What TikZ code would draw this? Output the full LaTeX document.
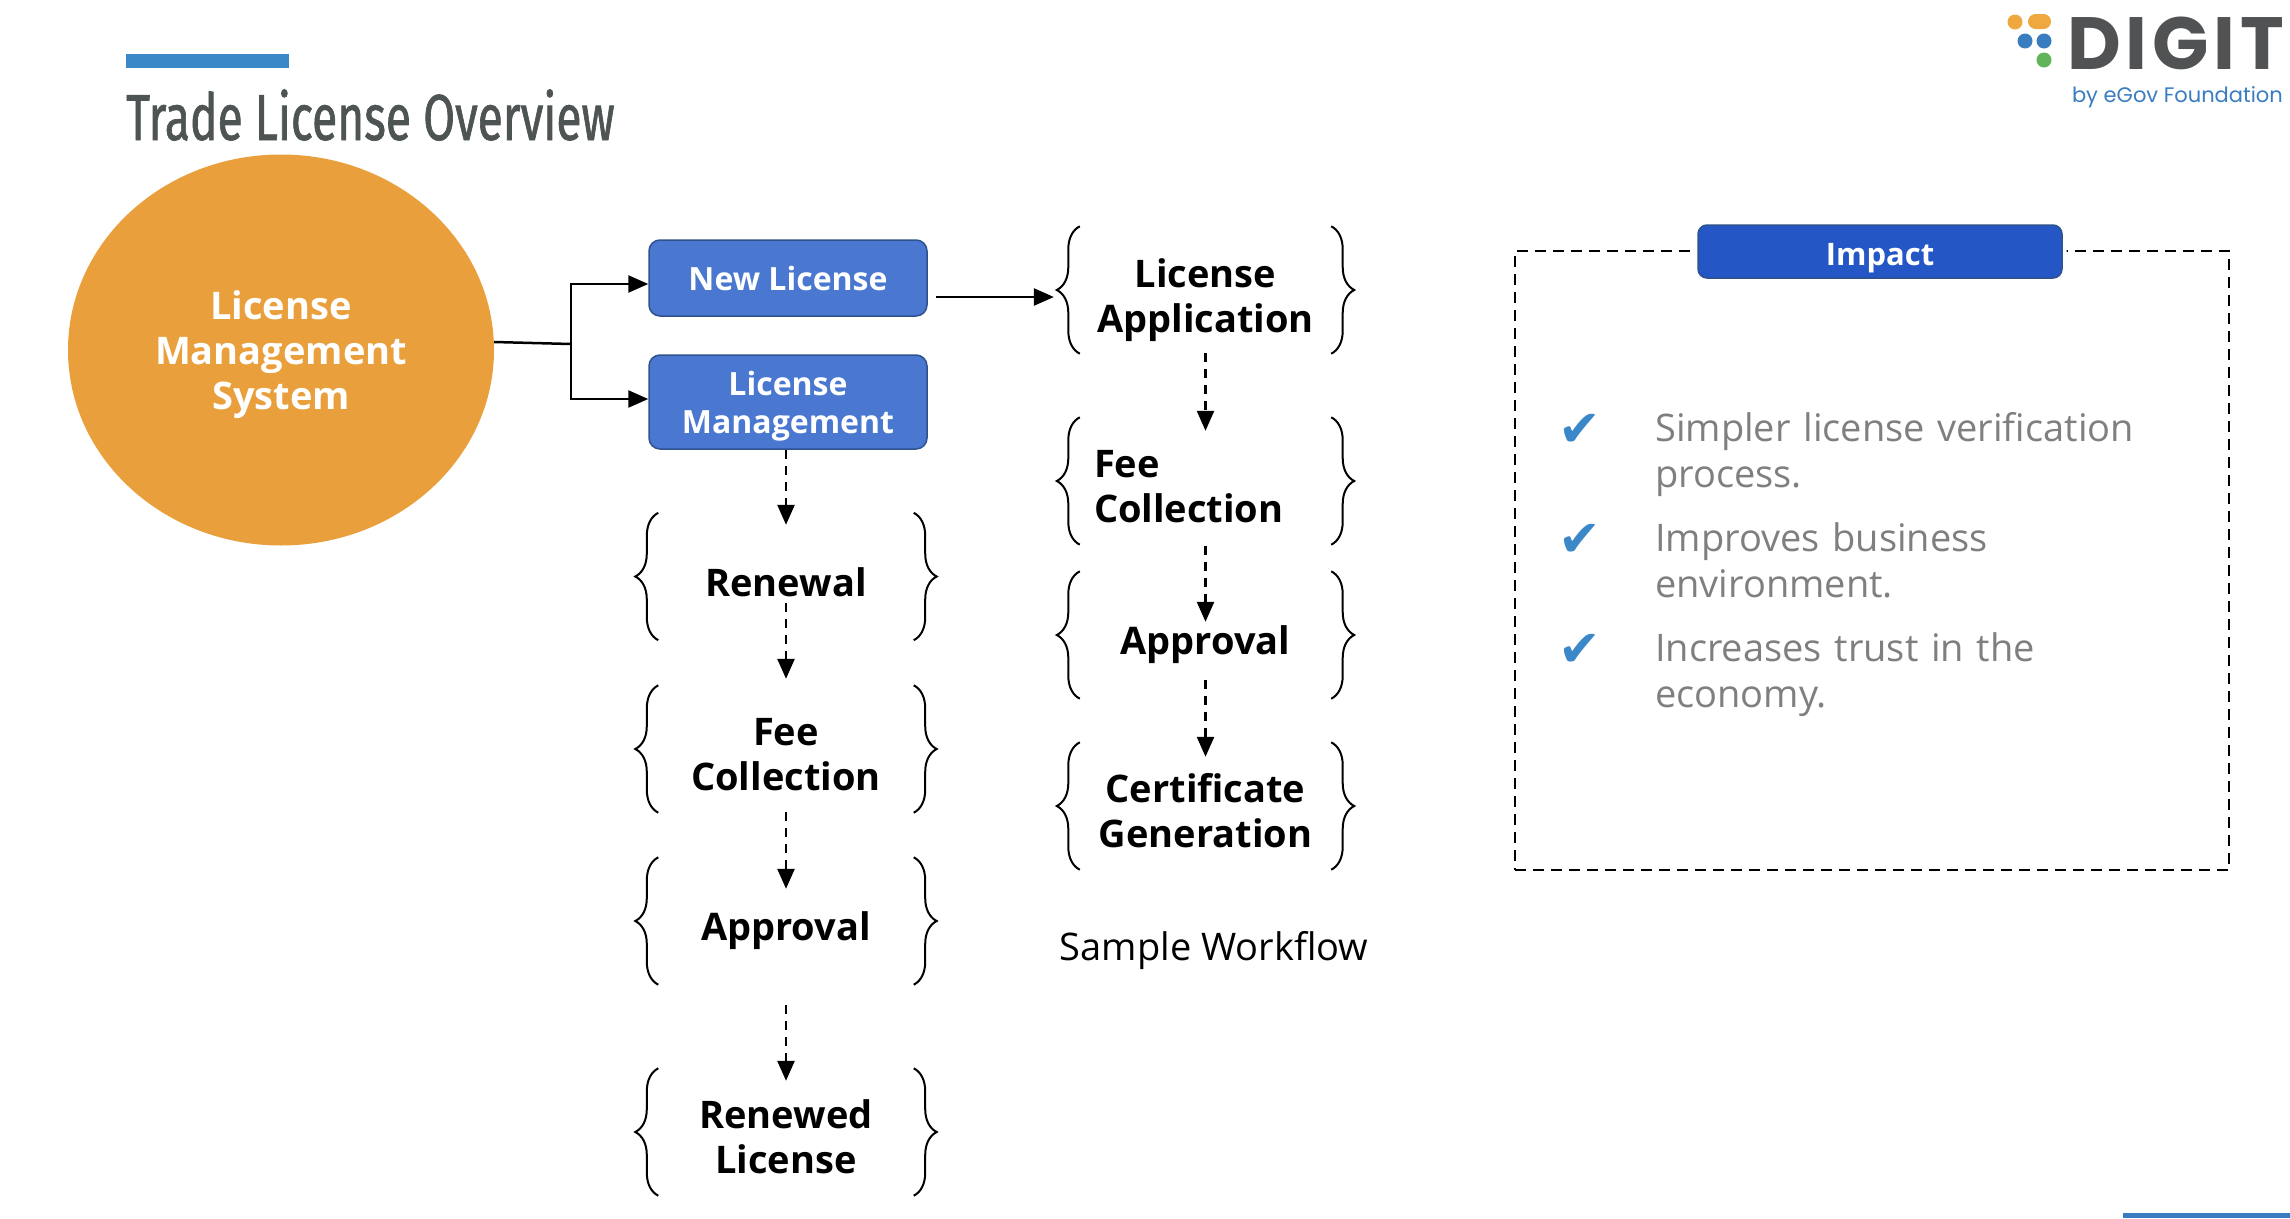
\documentclass[tikz,border=0pt]{standalone}
\usepackage{fontspec}
\usetikzlibrary{arrows.meta,shapes.geometric,decorations.pathreplacing}

\setmainfont{Open Sans}
\newfontfamily\titlefont[FakeStretch=0.71,FakeBold=1]{Fira Sans}
\newfontfamily\logofont[LetterSpace=6.4]{Poppins}
\newfontfamily\subfont{Poppins}
\newfontfamily\checkfont{DejaVu Sans}

\definecolor{barblue}{HTML}{3A88C8}
\definecolor{boxblue}{HTML}{4A78D0}
\definecolor{boxedge}{HTML}{2F528F}
\definecolor{impactblue}{HTML}{2457C5}
\definecolor{sysorange}{HTML}{E9A03C}
\definecolor{titlegray}{HTML}{4E5454}
\definecolor{itemgray}{HTML}{7F7F7F}
\definecolor{logogray}{HTML}{505254}
\definecolor{logoblue}{HTML}{3A7CC0}
\definecolor{logoorange}{HTML}{EFA83F}
\definecolor{logogreen}{HTML}{5FB45C}

\tikzset{
    bluebox/.style={draw=boxedge, line width=1.5pt, fill=boxblue, rounded corners=11pt,
        text=white, align=center, inner sep=0pt, minimum width=278pt,
        font=\fontsize{32}{38}\selectfont\bfseries},
    bracetext/.style={inner sep=0pt, minimum height=127pt, align=center,
        font=\fontsize{38}{45}\selectfont\bfseries},
    colA/.style={bracetext, minimum width=255pt},
    colB/.style={bracetext, minimum width=251pt},
    curly/.style={line width=2pt, decorate, decoration={brace, amplitude=23pt, aspect=0.5}},
    solidarrow/.style={line width=2.5pt, -{Triangle[length=20pt,width=17pt]}},
    dasharrow/.style={solidarrow, dash pattern=on 9pt off 7pt},
    item/.style={text=itemgray, anchor=north west, inner sep=0pt, text width=520pt, align=left,
        font=\fontsize{38}{46}\selectfont},
}

\begin{document}
\begin{tikzpicture}[x=1pt, y=-1pt]
    \useasboundingbox (0,0) rectangle (2290,1218);

    % Title and bars
    \fill[barblue] (126,54) rectangle (289,68);
    \fill[logoblue] (2123,1213) rectangle (2290,1218);
    \node (title) [anchor=base west, inner sep=0pt, text=titlegray, font=\fontsize{65}{65}\selectfont\titlefont] at (126,140) {Trade License Overview};

    % Logo
    \fill[logoorange] (2015,22) circle (7.5);
    \fill[logoorange, rounded corners=7.5pt] (2028,14) rectangle (2051,29);
    \fill[logoblue] (2025,41) circle (7.5);
    \fill[logoblue] (2044,41) circle (7.5);
    \fill[logogreen] (2044,60) circle (7.5);
    \node (digit) [anchor=base east, inner sep=0pt, text=logogray, font=\fontsize{74}{74}\selectfont\logofont\bfseries] at (2284,69) {DIGIT};
    \node (egov) [anchor=base east, inner sep=0pt, text=logoblue, font=\fontsize{21}{21}\selectfont\subfont] at (2283,102) {by eGov Foundation};

    % Main system and its two branches
    \node (system) [ellipse, fill=sysorange, minimum width=426pt, minimum height=391pt, inner sep=0pt, text=white, align=center, font=\fontsize{38}{45}\selectfont\bfseries] at (281,350) {\rule{0pt}{39pt}License\\Management\\System};
    \node (newlic) [bluebox, minimum height=76pt] at (788,278) {New License};
    \node (mgmt) [bluebox, minimum height=94pt] at (788,402) {\rule{0pt}{33pt}License\\Management};
    \coordinate (joint) at (571,344);

    % Left column
    \node (renewal) [colA] at (786,582.5) {Renewal};
    \node (feeA) [colA] at (786,755) {Fee\\Collection};
    \node (apprA) [colA] at (786,931) {Approval};
    \node (renewed) [colA] at (786,1136.5) {Renewed\\License};

    % Right column
    \node (licapp) [colB] at (1205.5,300) {License\\Application};
    \node (feeB) [colB, text width=223pt, align=left, inner xsep=14pt] at (1205.5,487) {Fee\\Collection};
    \node (apprB) [colB] at (1205.5,645) {Approval};
    \node (cert) [colB] at (1205.5,810.5) {Certificate\\Generation};
    \node (sample) [font=\fontsize{38}{44}\selectfont] at (1214,951) {Sample Workflow};

    % Braces
    \foreach \n/\dy in {renewal/6,feeA/6,apprA/10,renewed/4.5,licapp/10,feeB/6,apprB/10,cert/4.5} {
        \draw[curly] ([yshift=\dy pt]\n.south west) -- ([yshift=\dy pt]\n.north west);
        \draw[curly] ([yshift=\dy pt]\n.north east) -- ([yshift=\dy pt]\n.south east);
    }

    % Arrows
    \draw[line width=2.5pt] (system.east |- 0,342) -- (joint);
    \draw[solidarrow] (joint) |- ([yshift=-6pt]newlic.west);
    \draw[solidarrow] (joint) |- ([yshift=3pt]mgmt.west);
    \draw[solidarrow, shorten <=8pt, shorten >=26pt] ([yshift=3pt]newlic.east |- licapp.west) -- ([yshift=3pt]licapp.west);
    \draw[dasharrow, shorten >=-6pt] (mgmt.south -| renewal.north) -- (renewal.north);
    \draw[dasharrow, shorten <=-43pt, shorten >=12.5pt] (renewal.south) -- (feeA.north);
    \draw[dasharrow, shorten <=-6.5pt, shorten >=-21.5pt] (feeA.south) -- (apprA.north);
    \draw[dasharrow, shorten <=10.5pt, shorten >=-8pt] (apprA.south) -- (renewed.north);
    \draw[dasharrow, shorten <=-10.5pt, shorten >=-7.5pt] (licapp.south) -- (feeB.north);
    \draw[dasharrow, shorten <=-4.5pt, shorten >=-40.5pt] (feeB.south) -- (apprB.north);
    \draw[dasharrow, shorten <=-28.5pt, shorten >=-10pt] (apprB.south) -- (cert.north);

    % Impact box
    \node (impactbox) [draw, line width=2.5pt, dash pattern=on 11pt off 7pt, minimum width=714pt, minimum height=619pt] at (1872,560.5) {};
    \node (impact) [draw=boxedge, line width=1.5pt, fill=impactblue, rounded corners=9pt, preaction={draw=white, line width=9pt}, text=white, inner sep=0pt, minimum width=364pt, minimum height=53pt, font=\fontsize{31}{36}\selectfont\bfseries] at (1880,251.5) {\rule{0pt}{36pt}Impact};

    % Impact list
    \foreach \n/\y/\txt in {a/412.5/Simpler license verification\\process., b/522.5/Improves business\\environment., c/632.5/Increases trust in the\\economy.} {
        \node (check\n) [text=barblue, inner sep=0pt, font=\fontsize{51}{51}\selectfont\checkfont] at (1580,\y+17.5) {✔};
        \node (item\n) [item] at (1655,\y) {\txt};
    }
\end{tikzpicture}
\end{document}
